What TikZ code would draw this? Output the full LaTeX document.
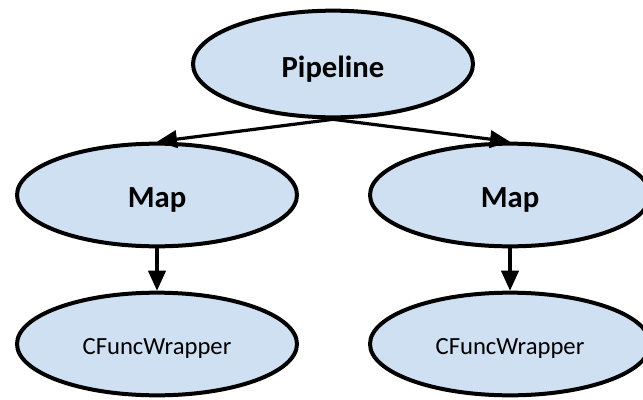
\documentclass[tikz,border=0pt]{standalone}
\usepackage{fontspec}
\setmainfont{Carlito}
\usetikzlibrary{shapes.geometric,arrows.meta}
\definecolor{nodefill}{RGB}{207,224,242}
\tikzset{
  oval/.style={ellipse, draw=black, line width=3pt, fill=nodefill, inner sep=0pt,
    minimum width=210pt, minimum height=77pt},
  boldtxt/.style={font=\fontsize{23}{27}\selectfont\bfseries},
  regtxt/.style={font=\fontsize{18.5}{22}\selectfont},
  conn/.style={draw=black, line width=2.4pt, -{Triangle[length=15pt,width=13pt]}}
}
\newcommand{\dn}[1]{\raisebox{-3.5pt}[\height][\depth]{#1}}
\begin{document}
\begin{tikzpicture}[x=0.75pt,y=-0.75pt]
\useasboundingbox (0,0) rectangle (643,400);
\node[oval, boldtxt, minimum height=80pt] (pipe) at (333,64) {\dn{Pipeline}};
\node[oval, boldtxt] (mapL) at (157,195) {\dn{Map}};
\node[oval, boldtxt] (mapR) at (510,195) {\dn{Map}};
\node[oval, regtxt] (cfL) at (157,344) {\dn{CFuncWrapper}};
\node[oval, regtxt] (cfR) at (510,344) {\dn{CFuncWrapper}};
\draw[conn] (pipe.south) -- (mapL.north);
\draw[conn] (pipe.south) -- (mapR.north);
\draw[conn] (mapL.south) -- (cfL.north);
\draw[conn] (mapR.south) -- (cfR.north);
\end{tikzpicture}
\end{document}
